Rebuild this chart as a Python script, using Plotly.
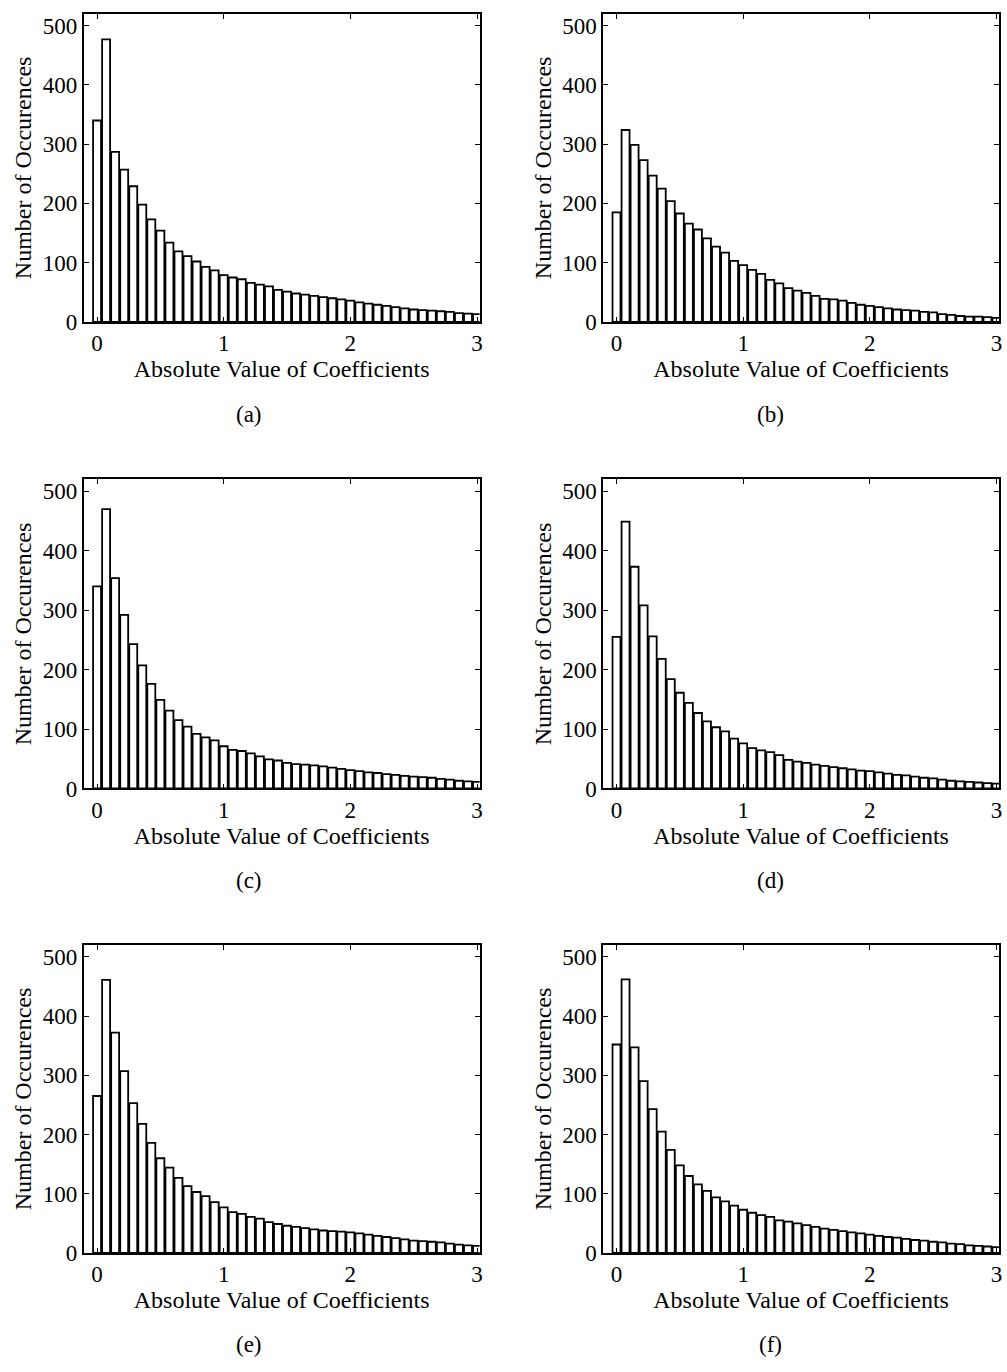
import numpy as np
import plotly.graph_objects as go

W, H = 1007, 1372

# bin centres: 43 bins spanning 0..3
n_bins = 43
bin_centers = [3.0 * k / (n_bins - 1) for k in range(n_bins)]

counts_a = [340, 477, 287, 257, 229, 198, 173, 154, 134, 119, 111, 102, 93, 87, 79, 75, 72, 66, 63, 60,
            54, 51, 48, 46, 44, 42, 40, 38, 36, 33, 31, 29, 27, 25, 23, 21, 20, 19, 18, 17, 15, 14, 13]
counts_b = [185, 324, 299, 273, 247, 225, 204, 183, 166, 156, 141, 127, 117, 103, 96, 88, 81, 71, 65, 57,
            53, 49, 44, 39, 38, 36, 32, 29, 27, 25, 23, 21, 20, 19, 17, 16, 13, 12, 10, 9, 9, 8, 7]
counts_c = [340, 470, 354, 292, 243, 207, 176, 149, 131, 115, 104, 92, 86, 81, 71, 65, 63, 59, 54, 49,
            47, 43, 41, 40, 39, 37, 35, 33, 31, 29, 27, 26, 24, 23, 21, 20, 19, 18, 16, 15, 13, 12, 11]
counts_d = [255, 449, 373, 308, 256, 218, 184, 161, 144, 127, 113, 103, 96, 84, 76, 68, 64, 61, 56, 48,
            45, 43, 40, 38, 36, 34, 32, 30, 29, 27, 25, 23, 22, 20, 18, 17, 15, 13, 12, 11, 10, 9, 8]
counts_e = [265, 461, 372, 307, 253, 218, 186, 160, 144, 127, 113, 103, 96, 86, 77, 69, 66, 61, 58, 52,
            49, 46, 44, 42, 40, 38, 37, 36, 35, 33, 31, 29, 27, 25, 23, 21, 20, 19, 18, 16, 14, 13, 12]
counts_f = [352, 462, 347, 290, 243, 205, 174, 148, 130, 116, 105, 94, 87, 80, 73, 68, 64, 61, 55, 53,
            50, 47, 44, 41, 39, 37, 35, 33, 31, 29, 27, 26, 24, 22, 21, 19, 18, 16, 15, 13, 12, 11, 10]

panel_labels = ["(a)", "(b)", "(c)", "(d)", "(e)", "(f)"]
x_ticks = [0, 1, 2, 3]
y_ticks = [0, 100, 200, 300, 400, 500]
x_title = "Absolute Value of Coefficients"
y_title = "Number of Occurences"

series = [counts_a, counts_b, counts_c, counts_d, counts_e, counts_f]

FONT = "Liberation Serif"

# panel pixel boxes (left, right, top, bottom)
col_x = [(84, 481), (605, 1002)]
row_y = [(14, 325), (484, 796), (954, 1265)]
caption_y = [418, 889, 1357]
caption_x = [250, 773]

fig = go.Figure()
for i, counts in enumerate(series):
    r, c = divmod(i, 2)
    idx = i + 1
    xa = "x" if idx == 1 else f"x{idx}"
    ya = "y" if idx == 1 else f"y{idx}"
    fig.add_trace(go.Bar(
        x=bin_centers, y=counts, xaxis=xa, yaxis=ya,
        marker=dict(color="white", line=dict(color="black", width=1.8)),
        showlegend=False,
    ))
    l, rr = col_x[c]
    t, b = row_y[r]
    axis_common = dict(
        showline=True, linecolor="black", linewidth=1.6, mirror="ticks",
        ticks="inside", ticklen=5, tickwidth=1.2, tickcolor="black",
        showgrid=False, zeroline=False,
        tickfont=dict(family=FONT, size=23, color="black"),
    )
    fig.layout[f"xaxis{idx if idx > 1 else ''}"] = dict(
        domain=[l / W, rr / W], anchor=ya, range=[-0.105, 3.02],
        tickvals=x_ticks, ticktext=[str(v) for v in x_ticks],
        title=dict(text=x_title, font=dict(family=FONT, size=24, color="black"), standoff=2),
        **axis_common,
    )
    fig.layout[f"yaxis{idx if idx > 1 else ''}"] = dict(
        domain=[1 - b / H, 1 - t / H], anchor=xa, range=[0, 520],
        tickvals=y_ticks, ticktext=[str(v) for v in y_ticks],
        title=dict(text=y_title, font=dict(family=FONT, size=24, color="black"), standoff=4),
        **axis_common,
    )
    fig.add_annotation(
        text=panel_labels[i], xref="paper", yref="paper",
        x=caption_x[c] / W, y=1 - caption_y[r] / H,
        xanchor="center", yanchor="middle", showarrow=False,
        font=dict(family=FONT, size=23, color="black"),
    )

fig.update_layout(
    width=W, height=H,
    margin=dict(l=0, r=0, t=0, b=0),
    paper_bgcolor="white", plot_bgcolor="white",
    bargap=0.12,
)

fig.write_html("out.html")
